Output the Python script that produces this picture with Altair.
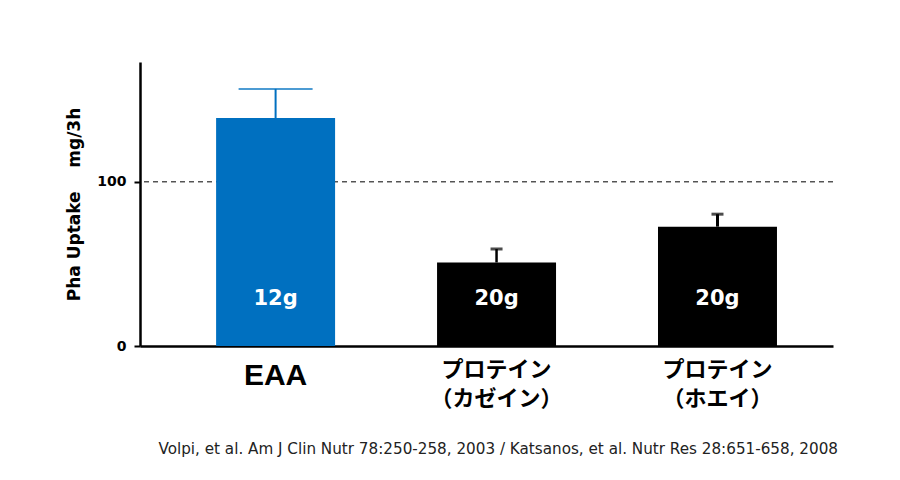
import altair as alt
import pandas as pd

groups = ["EAA", "カゼイン", "ホエイ"]
uptake = [138.9, 50.9, 72.7]
upper = [156.6, 59.1, 80.3]
doses = ["12g", "20g", "20g"]
labels = ["EAA", "プロテイン\n（カゼイン）", "プロテイン\n（ホエイ）"]
y_ticks = [0, 100]
reference = [100]
source = ["Volpi, et al. Am J Clin Nutr 78:250-258, 2003 / Katsanos, et al. Nutr Res 28:651-658, 2008"]

df = pd.DataFrame({"group": groups, "uptake": uptake, "upper": upper,
                   "dose": doses, "label": labels})

BLUE = "#0070C0"

x = alt.X("group:N", sort=groups,
          scale=alt.Scale(paddingInner=0.4615, paddingOuter=0.299, align=0.576),
          axis=alt.Axis(labels=False, ticks=False, title=None,
                        domainColor="black", domainWidth=2.5))
yscale = alt.Scale(domain=[0, 173], nice=False, zero=True)
yaxis = alt.Axis(values=y_ticks, title="Pha Uptake\u00a0\u00a0\u00a0\u00a0mg/3h",
                 titleFont="DejaVu Sans", titleFontSize=17, titleFontWeight="bold",
                 titleColor="black", titlePadding=13,
                 labelFont="DejaVu Sans", labelFontSize=14, labelFontWeight="bold",
                 labelColor="black", labelPadding=8,
                 tickSize=6, tickWidth=2, tickColor="black",
                 domainColor="black", domainWidth=2.5, grid=False)
color = alt.Color("group:N", scale=alt.Scale(domain=groups, range=[BLUE, "black", "black"]),
                  legend=None)

base = alt.Chart(df)

ref = alt.Chart(pd.DataFrame({"ref": reference})).mark_rule(
    color="black", strokeWidth=1, strokeDash=[5, 4]
).encode(y=alt.Y("ref:Q", scale=yscale, axis=yaxis))

bars = base.mark_bar().encode(
    x=x, y=alt.Y("uptake:Q", scale=yscale, axis=yaxis), color=color)

stems = base.mark_rule().encode(
    x=x, y=alt.Y("uptake:Q", scale=yscale, axis=yaxis), y2="upper:Q", color=color,
    strokeWidth=alt.StrokeWidth("group:N", scale=alt.Scale(domain=groups, range=[2, 3, 3]),
                                legend=None))

cap_eaa = base.transform_filter(alt.datum.group == "EAA").mark_tick(
    thickness=2, size=74, color=BLUE
).encode(x=x, y=alt.Y("upper:Q", scale=yscale, axis=yaxis))

cap_pro = base.transform_filter(alt.datum.group != "EAA").mark_tick(
    thickness=3, size=12, color="black"
).encode(x=x, y=alt.Y("upper:Q", scale=yscale, axis=yaxis))

dose_txt = base.mark_text(color="white", font="DejaVu Sans", fontWeight="bold",
                          fontSize=21, baseline="alphabetic").encode(
    x=x, y=alt.value(243), text="dose:N")

lab_eaa = base.transform_filter(alt.datum.group == "EAA").mark_text(
    font="Liberation Sans", fontWeight="bold", fontSize=30, baseline="alphabetic",
    color="black").encode(x=x, y=alt.value(323), text="label:N")

lab_pro = base.transform_filter(alt.datum.group != "EAA").mark_text(
    font="Noto Sans CJK JP", fontWeight="bold", fontSize=22, baseline="alphabetic",
    lineBreak="\n", lineHeight=29, color="black").encode(
    x=x, y=alt.value(315), text="label:N")

cite = alt.Chart(pd.DataFrame({"src": source})).mark_text(
    font="DejaVu Sans", fontSize=15.2, align="right", baseline="alphabetic",
    color="#222222").encode(x=alt.value(698), y=alt.value(392), text="src:N")

chart = alt.layer(ref, bars, stems, cap_eaa, cap_pro, dose_txt, lab_eaa, lab_pro, cite).properties(
    width=693, height=284,
    autosize=alt.AutoSizeParams(type="none"),
    padding={"left": 140, "top": 62, "right": 67, "bottom": 134},
    background="white",
).configure_view(stroke=None)

chart.save("out.html", embed_options={"renderer": "svg", "actions": False})
